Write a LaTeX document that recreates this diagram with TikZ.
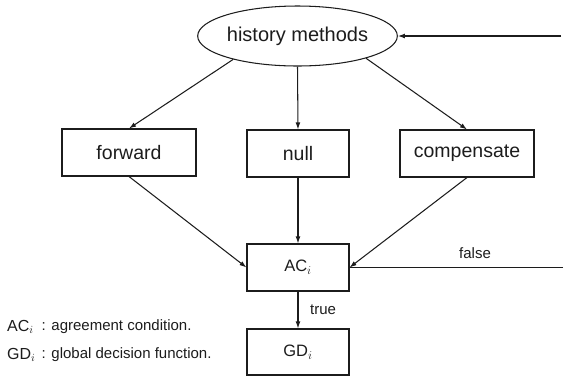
\documentclass[tikz,border=0pt]{standalone}
\usepackage{fontspec}
\setmainfont{Liberation Sans}
\usetikzlibrary{shapes.geometric,arrows.meta}
\definecolor{ink}{RGB}{28,28,28}
\tikzset{
  every node/.style={text=ink},
  line/.style={draw=ink,line width=1.05pt},
  arr/.style={line,-{Latex[length=7pt,width=4.8pt]}},
  box/.style={draw=ink,line width=1.05pt,rectangle,inner sep=0pt,
              minimum height=47pt,font=\fontsize{19.5}{22}\selectfont},
  wbox/.style={box,minimum width=134pt},
  nbox/.style={box,minimum width=102pt,font=\fontsize{16.5}{19}\selectfont},
  oval/.style={draw=ink,line width=1.05pt,ellipse,inner sep=0pt,
               minimum width=169pt,minimum height=60pt,
               font=\fontsize{20}{24}\selectfont},
  lbl/.style={font=\fontsize{15}{18}\selectfont,inner sep=0pt},
  legend/.style={font=\fontsize{15}{18}\selectfont,inner sep=0pt,anchor=west},
}
\begin{document}
\begin{tikzpicture}[x=1pt,y=-1pt]
\useasboundingbox (0,0) rectangle (564,376);

% decision structure
\node[oval] (hm) at (297.5,36) {history methods};
\node[wbox] (fw) at (129,152.5) {forward};
\node[box,minimum width=102pt] (nl) at (298,153.5) {null};
\node[wbox] (cp) at (467,153.5) {compensate};
\node[nbox] (ac) at (298,267.5) {AC$_i$};
\node[nbox,minimum height=46pt] (gd) at (298,352) {GD$_i$};

% loose ends of the feedback lines
\coordinate (r1) at (561,36);
\coordinate (r2) at (563,267.5);

% connectors
\draw[arr] (hm.200) -- (fw.north);
\draw[arr] (hm.south) -- (nl.north);
\draw[arr] (hm.342) -- (cp.north);
\draw[arr] (fw.south) -- (ac.west);
\draw[arr] (nl.south) -- (ac.north);
\draw[arr] (cp.south) -- (ac.east);
\draw[arr] (ac.south) -- (gd.north);
\draw[line] (r2) -- (ac.east);
\draw[arr] (r1) -- (hm.east);

% edge labels
\node[lbl] (fl) at (475,253) {false};
\node[lbl,anchor=west] (tr) at (310,310) {true};

% legend
\node[legend,font=\fontsize{16}{19}\selectfont] (k1) at (7,327) {AC$_i$};
\node[legend] (d1) at (41.5,327) {: agreement condition.};
\node[legend,font=\fontsize{16}{19}\selectfont] (k2) at (7,355) {GD$_i$};
\node[legend] (d2) at (41.5,355) {: global decision function.};
\end{tikzpicture}
\end{document}
